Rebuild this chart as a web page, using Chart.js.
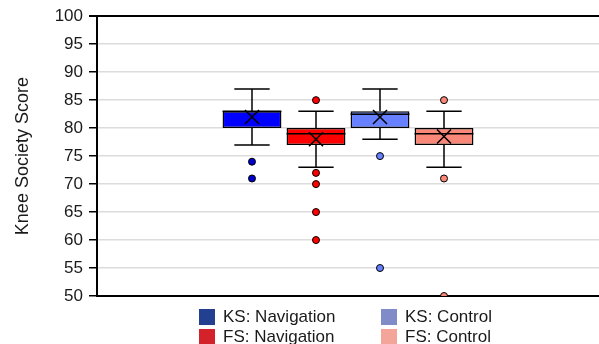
<!DOCTYPE html>
<html>
<head>
<meta charset="utf-8">
<script src="https://cdn.jsdelivr.net/npm/chart.js@4.4.1/dist/chart.umd.min.js"></script>
<style>
body { margin: 0; background: #fff; font-family: "Liberation Sans", Arial, sans-serif; }
#wrap { position: relative; width: 599px; height: 344px; }
.item { position: absolute; font-size: 17px; color: #1a1a1a; white-space: nowrap; line-height: 17px; }
.sw { display: inline-block; width: 16px; height: 16px; vertical-align: top; margin-right: 8px; margin-top: 1px; }
</style>
</head>
<body>
<div id="wrap">
  <canvas id="c" width="599" height="344"></canvas>
  <div id="legend"></div>
</div>
<script>
// groups in drawing order
const groups = ['KS: Navigation', 'FS: Navigation', 'KS: Control', 'FS: Control'];
const boxColors = ['#0000ff', '#ff0000', '#6680ff', '#fa8878'];
const legendColors = ['#233f8f', '#d3222a', '#7f8cc8', '#f4a59a'];

// box plot stats
const mins = [77, 73, 78, 73];
const q1s = [80, 77, 80, 77];
const medians = [83, 79, 82.5, 79];
const q3s = [83, 80, 83, 80];
const maxs = [87, 83, 87, 83];
const means = [82, 78, 82, 78.5];
const outliers = [[74, 71], [85, 72, 70, 65, 60], [75, 55], [85, 71, 50]];

// legend is laid out row by row, two columns
const legendOrder = [0, 2, 1, 3];

const datasets = groups.map((g, i) => ({
    label: g,
    data: [[q1s[i], q3s[i]]],
    backgroundColor: boxColors[i],
    borderColor: '#000',
    borderWidth: 1.5,
    borderSkipped: false,
    barPercentage: 0.92,
    categoryPercentage: 0.51
}));

// whiskers, medians, means and outliers drawn from the bar elements + y scale
const boxExtras = {
    id: 'boxExtras',
    afterDatasetsDraw(chart) {
        const ctx = chart.ctx;
        const y = chart.scales.y;
        const area = chart.chartArea;
        ctx.save();
        ctx.beginPath();
        ctx.rect(area.left, area.top, area.right - area.left, area.bottom - area.top);
        ctx.clip();
        for (let i = 0; i < groups.length; i++) {
            const bar = chart.getDatasetMeta(i).data[0];
            const x = bar.x;
            const w = bar.width;
            const cap = w * 0.3;
            ctx.strokeStyle = '#000';
            ctx.lineWidth = 1.5;

            ctx.beginPath();
            ctx.moveTo(x, y.getPixelForValue(q3s[i]));
            ctx.lineTo(x, y.getPixelForValue(maxs[i]));
            ctx.moveTo(x - cap, y.getPixelForValue(maxs[i]));
            ctx.lineTo(x + cap, y.getPixelForValue(maxs[i]));
            ctx.moveTo(x, y.getPixelForValue(q1s[i]));
            ctx.lineTo(x, y.getPixelForValue(mins[i]));
            ctx.moveTo(x - cap, y.getPixelForValue(mins[i]));
            ctx.lineTo(x + cap, y.getPixelForValue(mins[i]));
            // median
            ctx.moveTo(x - w / 2, y.getPixelForValue(medians[i]));
            ctx.lineTo(x + w / 2, y.getPixelForValue(medians[i]));
            ctx.stroke();

            // mean cross
            const my = y.getPixelForValue(means[i]);
            const s = 7;
            ctx.beginPath();
            ctx.moveTo(x - s, my - s);
            ctx.lineTo(x + s, my + s);
            ctx.moveTo(x + s, my - s);
            ctx.lineTo(x - s, my + s);
            ctx.stroke();

            // outliers
            ctx.lineWidth = 1;
            for (const v of outliers[i]) {
                ctx.beginPath();
                ctx.arc(x, y.getPixelForValue(v), 3.5, 0, Math.PI * 2);
                ctx.fillStyle = i === 0 ? '#0000cc' : boxColors[i];
                ctx.fill();
                ctx.stroke();
            }
        }
        ctx.restore();
    }
};

new Chart(document.getElementById('c'), {
    type: 'bar',
    data: { labels: [''], datasets: datasets },
    plugins: [boxExtras],
    options: {
        responsive: false,
        animation: false,
        layout: { padding: { top: 12, bottom: 40, left: 0, right: 0 } },
        plugins: { legend: { display: false }, tooltip: { enabled: false } },
        scales: {
            x: {
                grid: { display: false },
                ticks: { display: false },
                border: { color: '#000', width: 2 }
            },
            y: {
                min: 50,
                max: 100,
                ticks: {
                    stepSize: 5,
                    color: '#1a1a1a',
                    padding: 6,
                    font: { family: '"Liberation Sans", Arial, sans-serif', size: 17 }
                },
                grid: {
                    color: c => c.tick && c.tick.value === 100 ? '#000' : '#dcdcdc',
                    lineWidth: c => c.tick && c.tick.value === 100 ? 2 : 1.5,
                    tickColor: '#000',
                    tickLength: 8
                },
                border: { color: '#000', width: 2 },
                title: {
                    display: true,
                    text: 'Knee Society Score',
                    color: '#1a1a1a',
                    padding: { top: 12, bottom: 0 },
                    font: { family: '"Liberation Sans", Arial, sans-serif', size: 18 }
                },
                afterFit: s => { s.width = 97; }
            }
        }
    }
});

// html legend, two columns
const legend = document.getElementById('legend');
const colX = [199, 381];
const rowY = [308, 328];
legendOrder.forEach((gi, k) => {
    const d = document.createElement('div');
    d.className = 'item';
    d.style.left = colX[k % 2] + 'px';
    d.style.top = rowY[Math.floor(k / 2)] + 'px';
    d.innerHTML = '<span class="sw" style="background:' + legendColors[gi] + '"></span>' + groups[gi];
    legend.appendChild(d);
});
</script>
</body>
</html>
